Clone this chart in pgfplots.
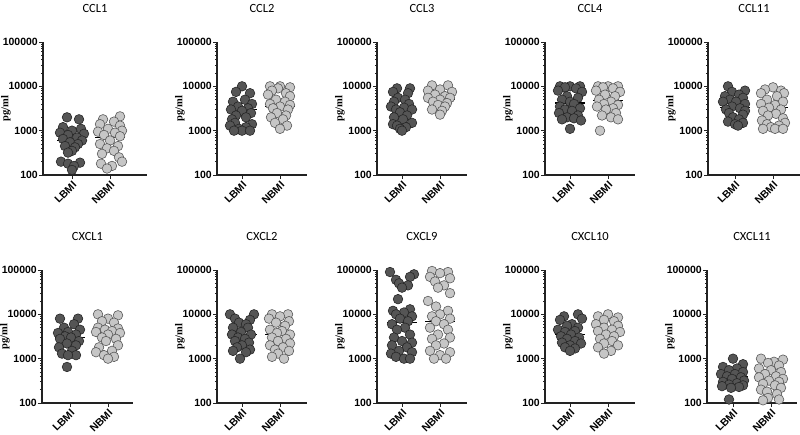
\documentclass[border=0pt]{standalone}
\usepackage{fontspec}
\setmainfont{Liberation Sans}
\newfontfamily\titlefont{Carlito}
\newfontfamily\labelfont{Liberation Serif}
\usepackage{pgfplots}
\pgfplotsset{compat=1.18}
\definecolor{darkdot}{HTML}{555555}
\definecolor{lightdot}{HTML}{C6C6C6}
\definecolor{axisgray}{HTML}{222222}

\pgfplotsset{
  cytopanel/.style={
    scale only axis, width=90pt, height=133pt,
    ymin=100, ymax=100000,
    xmin=-25, xmax=65,
    axis x line*=bottom, axis y line*=left,
    axis line style={line width=1.2pt, axisgray},
    ytick={100,1000,10000,100000},
    yticklabels={100,1000,10000,100000},
    minor ytick={200,300,400,500,600,700,800,900,2000,3000,4000,5000,6000,7000,8000,9000,20000,30000,40000,50000,60000,70000,80000,90000},
    xtick={0,38}, xticklabels={LBMI,NBMI},
    tick align=outside,
    major tick length=4pt, minor tick length=2pt,
    tick style={axisgray, line width=0.8pt},
    tick label style={font=\fontsize{10.5}{11}\selectfont\bfseries},
    yticklabel style={inner sep=1pt},
    xticklabel style={rotate=45, anchor=north east, inner sep=1pt},
    title style={font=\titlefont\fontsize{12.5}{14}\selectfont, at={(axis description cs:0.5,1)}, anchor=base, yshift=23pt},
    ylabel={pg/ml},
    ylabel style={font=\labelfont\fontsize{10.5}{12}\selectfont\bfseries, at={(axis description cs:0,0.5)}, anchor=center, yshift=37pt},
    clip=false,
  },
  lbm/.style={only marks, mark=*, mark size=4.8pt, mark options={fill=darkdot, draw=black!85, line width=0.6pt}},
  nbm/.style={only marks, mark=*, mark size=4.8pt, mark options={fill=lightdot, draw=black!65, line width=0.6pt}},
  medline/.style={black, line width=1.2pt, no marks},
}

\begin{document}
\begin{tikzpicture}
\path[use as bounding box] (0,0) rectangle (800pt,434pt);

% ---- row 1 ----
\begin{semilogyaxis}[cytopanel, at={(43pt,259pt)}, anchor=south west, width=104pt, xmin=-29, xmax=75, title={CCL1}]
\addplot[lbm] coordinates {(-5,2000)(7,1800)(-9,1200)(9,1100)(0,1000)(-12,900)(12,850)(-4,800)(5,700)(-9,650)(10,600)(-2,550)(6,500)(-7,450)(3,420)(0,350)(-4,320)(-11,200)(8,190)(-4,180)(2,160)(0,130)};
\addplot[nbm] coordinates {(48,2100)(31,1800)(42,1600)(28,1400)(48,1300)(36,1100)(50,1000)(26,950)(43,900)(32,800)(48,750)(38,600)(28,500)(46,450)(35,400)(42,350)(30,300)(47,250)(50,200)(29,180)(40,160)(35,140)};
\addplot[medline] coordinates {(-15,600)(15,600)};
\addplot[medline] coordinates {(23,700)(53,700)};
\end{semilogyaxis}

\begin{semilogyaxis}[cytopanel, at={(217pt,259pt)}, anchor=south west, title={CCL2}]
\addplot[lbm] coordinates {(0,10000)(-6,7500)(8,7000)(3,5000)(-9,4500)(10,4000)(-4,3500)(6,3200)(-11,3000)(0,2800)(9,2500)(-6,2200)(4,2000)(-10,1800)(-7,1500)(10,1400)(-12,1300)(4,1200)(-3,1100)(0,1000)(8,1000)(-8,1000)};
\addplot[nbm] coordinates {(28,10000)(38,10000)(48,9500)(36,9000)(30,8000)(44,7000)(26,6500)(48,6000)(34,5000)(43,4500)(28,4000)(48,3800)(38,3500)(31,3200)(46,3000)(35,2500)(44,2200)(29,2000)(41,1800)(33,1500)(45,1300)(38,1100)};
\addplot[medline] coordinates {(-15,3000)(15,3000)};
\addplot[medline] coordinates {(23,3500)(53,3500)};
\end{semilogyaxis}

\begin{semilogyaxis}[cytopanel, at={(377pt,259pt)}, anchor=south west, title={CCL3}]
\addplot[lbm] coordinates {(-5,9000)(8,9000)(-9,7500)(6,7000)(-4,5500)(3,5000)(-8,4500)(7,4000)(-11,3500)(2,3300)(-6,3000)(10,3000)(-2,2600)(5,2200)(-8,2000)(1,1800)(10,1500)(-9,1400)(-5,1300)(4,1200)(-2,1100)(0,1000)};
\addplot[nbm] coordinates {(30,10500)(46,10500)(38,8500)(26,8000)(50,7500)(33,6500)(43,6000)(26,5500)(48,5500)(38,5000)(31,4500)(45,4200)(36,3800)(43,3500)(30,3000)(40,2800)(38,2300)};
\addplot[medline] coordinates {(-15,3000)(15,3000)};
\addplot[medline] coordinates {(23,5000)(53,5000)};
\end{semilogyaxis}

\begin{semilogyaxis}[cytopanel, at={(545pt,259pt)}, anchor=south west, title={CCL4}]
\addplot[lbm] coordinates {(-10,10000)(0,10000)(10,10000)(-5,9500)(6,9000)(-12,8000)(12,7500)(-3,6000)(8,5500)(-8,5000)(0,4500)(4,4000)(-10,3500)(10,3200)(-5,3000)(2,2800)(-11,2500)(8,2200)(-3,2000)(4,1900)(-8,1800)(11,1700)(0,1100)};
\addplot[nbm] coordinates {(28,10000)(38,10000)(48,10000)(33,9500)(43,9000)(26,8000)(50,7500)(35,6500)(45,6000)(29,5000)(41,4500)(34,4000)(48,3800)(27,3500)(43,3200)(36,3000)(46,2500)(32,2200)(41,2000)(48,1800)(30,1000)};
\addplot[medline] coordinates {(-15,4200)(15,4200)};
\addplot[medline] coordinates {(23,4800)(53,4800)};
\end{semilogyaxis}

\begin{semilogyaxis}[cytopanel, at={(708pt,259pt)}, anchor=south west, width=92pt, xmin=-27, xmax=65, title={CCL11}]
\addplot[lbm] coordinates {(-7,10000)(10,8000)(-3,7500)(4,6500)(-10,6000)(8,5500)(-5,5000)(1,4500)(-12,4500)(10,4000)(-3,3500)(5,3200)(-9,3000)(10,2800)(-6,2500)(8,2300)(-2,2000)(4,1800)(-7,1600)(8,1500)(0,1400)(3,1300)};
\addplot[nbm] coordinates {(38,9500)(30,8500)(46,8000)(26,7000)(49,7000)(42,6000)(32,5000)(48,4500)(26,4000)(40,3800)(34,3300)(46,3000)(28,2800)(41,2400)(33,2200)(48,1900)(27,1700)(50,1500)(32,1400)(44,1300)(36,1200)(40,1100)(28,1100)(48,1100)};
\addplot[medline] coordinates {(-15,3300)(15,3300)};
\addplot[medline] coordinates {(23,3300)(53,3300)};
\end{semilogyaxis}

% ---- row 2 ----
\begin{semilogyaxis}[cytopanel, at={(42pt,31pt)}, anchor=south west, width=91pt, xmin=-28, xmax=63, title={CXCL1}]
\addplot[lbm] coordinates {(-10,8000)(8,8000)(4,6000)(-6,5000)(10,4500)(-2,4000)(-12,3800)(6,3500)(-5,3200)(1,3000)(-10,2800)(9,2500)(-3,2200)(6,2000)(-11,1800)(2,1500)(-8,1300)(6,1200)(-2,1200)(-3,650)};
\addplot[nbm] coordinates {(28,10000)(48,9500)(38,8000)(32,7000)(44,6500)(28,5000)(48,4800)(35,4500)(42,4200)(26,4000)(50,3800)(38,3500)(32,3000)(46,2800)(36,2500)(48,2000)(29,1800)(42,1500)(26,1400)(34,1200)(44,1100)(38,1000)};
\addplot[medline] coordinates {(-15,3000)(15,3000)};
\addplot[medline] coordinates {(23,3900)(53,3900)};
\end{semilogyaxis}

\begin{semilogyaxis}[cytopanel, at={(217pt,31pt)}, anchor=south west, title={CXCL2}]
\addplot[lbm] coordinates {(-12,10000)(12,10000)(-7,8000)(8,7500)(-3,6500)(4,6000)(-9,5000)(6,5000)(-1,4000)(-10,3500)(9,3500)(-4,3000)(3,2800)(-7,2500)(7,2300)(0,2000)(-5,1800)(8,1600)(-9,1500)(4,1400)(-2,1000)};
\addplot[nbm] coordinates {(30,10000)(46,10000)(38,9000)(27,8000)(47,7000)(34,6500)(43,5500)(28,4500)(40,4200)(35,3800)(48,3500)(30,3000)(44,2800)(36,2500)(48,2200)(28,2000)(41,1800)(33,1600)(47,1500)(36,1300)(30,1100)(42,1000)};
\addplot[medline] coordinates {(-15,3500)(15,3500)};
\addplot[medline] coordinates {(23,3500)(53,3500)};
\end{semilogyaxis}

\begin{semilogyaxis}[cytopanel, at={(377pt,31pt)}, anchor=south west, title={CXCL9}]
\addplot[lbm] coordinates {(-12,90000)(12,80000)(8,70000)(-6,60000)(-3,50000)(6,45000)(0,40000)(-4,22000)(8,13000)(-9,12000)(2,11000)(-6,10000)(10,9000)(-2,8000)(6,7000)(-10,6000)(3,5000)(-5,4500)(8,3500)(-8,3000)(0,2500)(10,2300)(-10,2000)(5,1800)(-3,1500)(10,1400)(-11,1300)(-6,1100)(2,1000)(8,1000)};
\addplot[nbm] coordinates {(30,95000)(46,90000)(38,85000)(28,70000)(48,65000)(33,55000)(42,45000)(36,40000)(48,30000)(26,20000)(34,15000)(46,12000)(38,10000)(30,9000)(48,8000)(34,7000)(42,6000)(28,5000)(46,4500)(36,3500)(48,3000)(30,2800)(42,2200)(34,2000)(28,1500)(48,1400)(38,1200)(32,1000)(44,1000)};
\addplot[medline] coordinates {(-15,6500)(15,6500)};
\addplot[medline] coordinates {(23,7000)(53,7000)};
\end{semilogyaxis}

\begin{semilogyaxis}[cytopanel, at={(545pt,31pt)}, anchor=south west, title={CXCL10}]
\addplot[lbm] coordinates {(8,10000)(-6,9000)(12,8000)(-10,7500)(2,6000)(-3,5500)(8,5000)(-12,4500)(5,4200)(-5,4000)(1,3500)(-9,3200)(9,3000)(-3,2800)(5,2500)(-8,2300)(11,2200)(0,2000)(-5,1800)(5,1700)(0,1500)};
\addplot[nbm] coordinates {(38,10000)(28,9000)(48,8500)(34,7500)(44,7000)(26,6000)(48,5500)(34,5000)(42,4500)(28,4200)(50,4000)(36,3500)(44,3200)(30,2800)(42,2500)(34,2200)(48,2000)(28,1800)(41,1500)(34,1300)};
\addplot[medline] coordinates {(-15,3500)(15,3500)};
\addplot[medline] coordinates {(23,4200)(53,4200)};
\end{semilogyaxis}

\begin{semilogyaxis}[cytopanel, at={(707pt,31pt)}, anchor=south west, xmin=-26, xmax=64, title={CXCL11}]
\addplot[lbm] coordinates {(0,1000)(10,750)(-10,650)(4,600)(-4,550)(10,500)(-12,450)(2,450)(-6,400)(8,380)(-1,350)(11,320)(-10,300)(4,280)(-4,260)(10,250)(-11,240)(6,230)(-2,220)(-4,120)};
\addplot[nbm] coordinates {(28,1000)(50,950)(41,850)(35,800)(46,700)(26,600)(38,550)(48,500)(32,450)(43,400)(26,380)(50,350)(36,320)(46,300)(30,270)(42,250)(48,220)(28,200)(34,180)(44,160)(35,130)(46,120)(30,115)};
\addplot[medline] coordinates {(-15,400)(15,400)};
\addplot[medline] coordinates {(23,380)(53,380)};
\end{semilogyaxis}
\end{tikzpicture}
\end{document}
